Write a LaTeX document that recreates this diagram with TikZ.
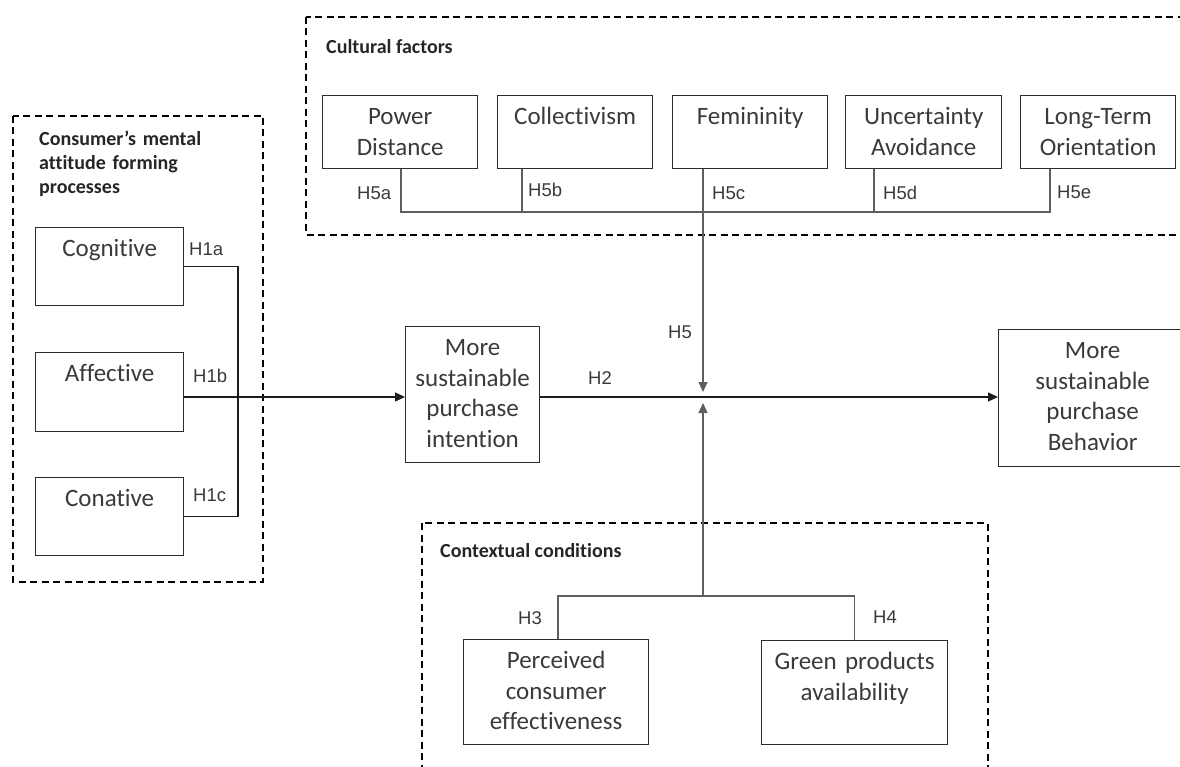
\documentclass[tikz,border=0pt]{standalone}
\usepackage{fontspec}
\setmainfont{Carlito}[Ligatures={NoCommon}]
\newfontfamily\hfont{Liberation Sans}
\usetikzlibrary{arrows.meta,calc}

\definecolor{boxline}{HTML}{2B2B2B}
\definecolor{boxtext}{HTML}{3A3A3A}
\definecolor{conline}{HTML}{5E5E5E}
\definecolor{mainline}{HTML}{1E1E1E}

\tikzset{
  cbox/.style={draw=boxline, line width=1.3pt, inner sep=0pt, anchor=north west,
    align=center, text height=29pt, text=boxtext,
    font=\fontsize{25}{30.5}\selectfont},
  frame/.style={draw=black, line width=2pt, dash pattern=on 7pt off 4.5pt},
  title/.style={anchor=base west, inner sep=0pt, align=left, text=black!85,
    font=\fontsize{20}{24}\bfseries\selectfont},
  hyp/.style={anchor=base west, inner sep=0pt, text=boxtext,
    font=\hfont\fontsize{18.5}{22}\selectfont},
  conn/.style={draw=conline, line width=1.2pt},
  brk/.style={draw=mainline, line width=1.2pt},
  arr/.style={draw=mainline, line width=1.3pt,
    -{Triangle[length=10pt,width=9pt]}},
}

\begin{document}
\begin{tikzpicture}[x=1pt, y=-1pt]
\useasboundingbox (0,0) rectangle (1180,767);

% grouping frames
\draw[frame] (306,17) rectangle (1200,235);
\draw[frame] (13,116) rectangle (263,582);
\draw[frame] (422,523) rectangle (988,790);

% frame titles
\node[title] (tcult) at (326,54) {Cultural factors};
\node[title, text width=220pt] (tcons) at (39,146)
  {Consumer’s mental\\attitude forming\\processes};
\node[title] (tctx) at (440,557) {Contextual conditions};

% cultural factor boxes
\node[cbox, text width=155pt, text depth=44pt] (pd)  at (322,95)  {Power\\Distance};
\node[cbox, text width=155pt, text depth=44pt] (col) at (497,95)  {Collectivism};
\node[cbox, text width=155pt, text depth=44pt] (fem) at (672,95)  {Femininity};
\node[cbox, text width=156pt, text depth=44pt] (ua)  at (845,95)  {Uncertainty\\Avoidance};
\node[cbox, text width=155pt, text depth=44pt] (lto) at (1020,95) {Long-Term\\Orientation};

% mental attitude boxes
\node[cbox, text width=148pt, text depth=49pt] (cog) at (35,227) {Cognitive};
\node[cbox, text width=148pt, text depth=50pt] (aff) at (35,352) {Affective};
\node[cbox, text width=148pt, text depth=49pt] (con) at (35,477) {Conative};

% intention and behaviour
\node[cbox, text width=134pt, text depth=107pt] (int) at (405,326)
  {More\\sustainable\\purchase\\intention};
\node[cbox, text width=188pt, text depth=108pt] (beh) at (998,329)
  {More\\sustainable\\purchase\\Behavior};

% contextual condition boxes
\node[cbox, text width=185pt, text depth=76pt] (pce) at (463,639)
  {Perceived\\consumer\\effectiveness};
\node[cbox, text width=186pt, text depth=75pt] (gpa) at (761,640)
  {Green products\\availability};

% junction points
\coordinate (m)    at (703,397);
\coordinate (hbar) at (0,212);
\coordinate (ctx)  at (703,596);
\coordinate (br)   at (238,0);

% H1 bracket and main path
\draw[brk] (cog.east) -| (br |- con.east) -- (con.east);
\draw[arr] (aff.east |- m) -- (int.west |- m);
\draw[arr] (int.east |- m) -- (beh.west |- m);

% cultural factors bar
\draw[conn] ([xshift=79pt]pd.south west) |- ([xshift=30pt]lto.south west |- hbar)
  -- ([xshift=30pt]lto.south west);
\draw[conn] ([xshift=25pt]col.south west) -- ([xshift=25pt]col.south west |- hbar);
\draw[conn] ([xshift=29pt]ua.south west) -- ([xshift=29pt]ua.south west |- hbar);
\draw[conn, -{Triangle[length=10pt,width=9pt]}, shorten >=5pt] (fem.south -| m) -- (m);

% contextual conditions bar
\draw[conn] ([xshift=95pt]pce.north west) |- (ctx) -| (gpa.north);
\draw[conn, -{Triangle[length=10pt,width=9pt]}, shorten >=6pt] (ctx) -- (m);

% hypothesis labels
\node[hyp] (h1a) at (189,256) {H1a};
\node[hyp] (h1b) at (193,382) {H1b};
\node[hyp] (h1c) at (193,501) {H1c};
\node[hyp] (h2)  at (588,384) {H2};
\node[hyp] (h5)  at (668,338) {H5};
\node[hyp] (h5a) at (357,200) {H5a};
\node[hyp] (h5b) at (528,197) {H5b};
\node[hyp] (h5c) at (712,200) {H5c};
\node[hyp] (h5d) at (883,200) {H5d};
\node[hyp] (h5e) at (1057,199) {H5e};
\node[hyp] (h3)  at (518,624) {H3};
\node[hyp] (h4)  at (873,623) {H4};
\end{tikzpicture}
\end{document}
